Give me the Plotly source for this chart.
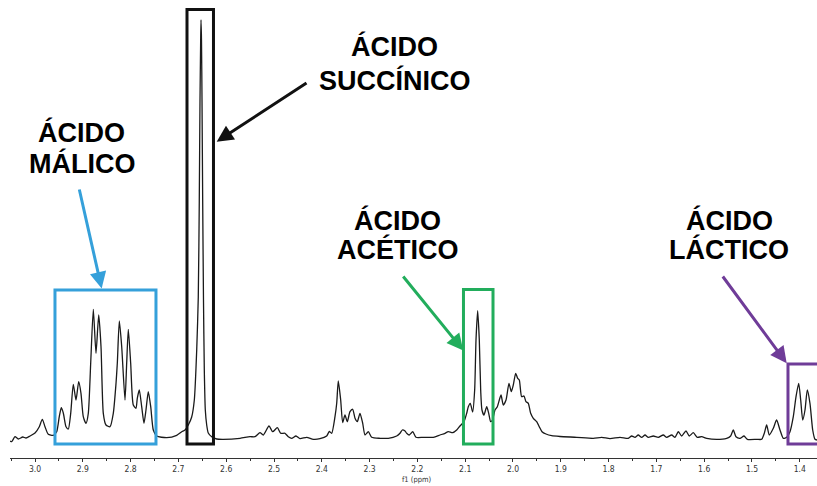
import plotly.graph_objects as go

# Chemical shift (ppm) and intensity (arbitrary units)
ppm = [3.0523, 3.0487, 3.0418, 3.0349, 3.0257, 3.0188, 3.0105, 3.0000, 2.9910, 2.9847,
       2.9791, 2.9722, 2.9617, 2.9546, 2.9492, 2.9450, 2.9408, 2.9351, 2.9303, 2.9253,
       2.9199, 2.9142, 2.9086, 2.9038, 2.8990, 2.8933, 2.8885, 2.8835, 2.8780, 2.8724,
       2.8667, 2.8619, 2.8571, 2.8515, 2.8431, 2.8362, 2.8305, 2.8278, 2.8236, 2.8186,
       2.8117, 2.8082, 2.8048, 2.7998, 2.7944, 2.7887, 2.7860, 2.7818, 2.7768, 2.7720,
       2.7678, 2.7630, 2.7579, 2.7525, 2.7454, 2.7245, 2.7036, 2.6931, 2.6862, 2.6793,
       2.6722, 2.6667, 2.6617, 2.6584, 2.6563, 2.6548, 2.6534, 2.6527, 2.6517, 2.6506,
       2.6492, 2.6475, 2.6458, 2.6437, 2.6408, 2.6375, 2.6297, 2.6199, 2.6061, 2.5711,
       2.5502, 2.5397, 2.5293, 2.5224, 2.5105, 2.5027, 2.4931, 2.4860, 2.4770, 2.4701,
       2.4630, 2.4540, 2.4456, 2.4316, 2.4178, 2.4038, 2.3898, 2.3843, 2.3793, 2.3724,
       2.3688, 2.3655, 2.3605, 2.3563, 2.3515, 2.3467, 2.3410, 2.3354, 2.3305, 2.3257,
       2.3201, 2.3144, 2.3096, 2.3027, 2.2956, 2.2782, 2.2609, 2.2433, 2.2364, 2.2316,
       2.2259, 2.2224, 2.2170, 2.2098, 2.2029, 2.1877, 2.1667, 2.1527, 2.1423, 2.1354,
       2.1262, 2.1178, 2.1109, 2.1025, 2.0969, 2.0935, 2.0894, 2.0844, 2.0802, 2.0774,
       2.0739, 2.0705, 2.0676, 2.0649, 2.0607, 2.0550, 2.0508, 2.0467, 2.0429, 2.0377,
       2.0328, 2.0251, 2.0203, 2.0146, 2.0084, 2.0036, 1.9994, 1.9944, 1.9902, 1.9868,
       1.9819, 1.9770, 1.9728, 1.9680, 1.9630, 1.9575, 1.9504, 1.9450, 1.9393, 1.9310,
       1.9190, 1.9017, 1.8667, 1.8320, 1.8144, 1.7971, 1.7762, 1.7588, 1.7517, 1.7448,
       1.7379, 1.7308, 1.7238, 1.7169, 1.7065, 1.6960, 1.6855, 1.6784, 1.6680, 1.6611,
       1.6542, 1.6471, 1.6381, 1.6312, 1.6228, 1.6144, 1.6052, 1.5948, 1.5739, 1.5530,
       1.5446, 1.5391, 1.5335, 1.5251, 1.5167, 1.5098, 1.4902, 1.4797, 1.4742, 1.4693,
       1.4638, 1.4554, 1.4485, 1.4414, 1.4345, 1.4274, 1.4205, 1.4136, 1.4079, 1.4023,
       1.3981, 1.3939, 1.3891, 1.3843, 1.3787, 1.3730, 1.3682, 1.3640]

intensity = [-1.0, -1.7, 3.3, 1.0, 3.0, 2.0, 4.0, 7.0, 13.3, 20.7,
             13.3, 5.7, 4.7, 8.3, 23.3, 32.3, 27.0, 13.3, 11.0, 26.7,
             55.7, 40.0, 58.3, 46.7, 23.3, 16.7, 26.7, 76.7, 130.7, 86.7,
             125.0, 93.3, 26.7, 15.0, 13.3, 26.7, 56.7, 76.7, 119.0, 93.3,
             40.0, 76.7, 110.7, 76.7, 35.0, 31.7, 41.7, 50.0, 33.3, 16.7,
             30.0, 48.3, 33.3, 10.0, 4.0, 2.3, 4.7, 8.3, 10.0, 15.0,
             23.0, 40.0, 90.0, 143.0, 240.0, 340.0, 400.0, 420.0, 400.0, 340.0,
             240.0, 140.0, 70.0, 30.0, 15.0, 7.0, 3.0, 1.0, 0.7, 1.7,
             3.3, 3.3, 7.3, 5.0, 14.0, 8.3, 12.3, 6.7, 6.7, 3.3,
             1.7, 4.0, 1.3, 2.7, 0.7, 1.3, 4.0, 8.5, 6.7, 23.3,
             36.7, 59.0, 40.0, 17.3, 25.0, 18.3, 28.3, 30.7, 21.7, 18.3,
             26.7, 16.7, 5.0, 8.3, 2.7, 1.7, 1.7, 4.0, 6.7, 10.0,
             9.0, 6.7, 5.0, 8.3, 2.7, 2.7, 2.7, 5.0, 6.7, 8.3,
             7.3, 10.0, 14.0, 18.3, 26.7, 33.3, 36.7, 28.0, 50.0, 100.0,
             129.3, 100.0, 50.0, 30.0, 25.0, 33.3, 26.7, 18.3, 20.0, 30.0,
             33.3, 45.0, 35.0, 40.0, 56.7, 48.3, 55.0, 66.7, 61.7, 60.0,
             43.3, 44.0, 38.3, 36.7, 26.7, 21.7, 18.3, 13.3, 8.3, 6.0,
             4.3, 3.5, 2.7, 1.7, 2.7, 1.3, 2.7, 1.7, 4.0, 2.7,
             5.0, 2.7, 5.0, 2.7, 4.0, 2.7, 5.0, 2.7, 5.0, 2.7,
             8.3, 4.0, 9.0, 4.0, 7.3, 2.7, 3.3, 1.7, 0.7, 1.7,
             4.0, 10.0, 3.3, 1.7, 4.0, 0.7, 0.7, 0.7, 6.7, 15.0,
             5.0, 11.7, 20.0, 10.0, 1.7, 2.7, 8.3, 23.3, 43.3, 56.7,
             40.0, 20.0, 30.0, 50.0, 36.7, 10.0, 0.7, 0.0]

# Highlighted regions (ppm ranges) and labels
compound_labels = [["ÁCIDO", "MÁLICO"], ["ÁCIDO", "SUCCÍNICO"],
                   ["ÁCIDO", "ACÉTICO"], ["ÁCIDO", "LÁCTICO"]]
region_ppm = [(2.9582, 2.7469), (2.6820, 2.6266), (2.1036, 2.0418), (1.4247, 1.3550)]
tick_vals = [3.0, 2.9, 2.8, 2.7, 2.6, 2.5, 2.4, 2.3, 2.2, 2.1, 2.0, 1.9, 1.8, 1.7, 1.6, 1.5, 1.4]
tick_text = ["3.0", "2.9", "2.8", "2.7", "2.6", "2.5", "2.4", "2.3", "2.2", "2.1",
             "2.0", "1.9", "1.8", "1.7", "1.6", "1.5", "1.4"]

colors = ["#35A0DA", "#111111", "#22AD5C", "#6F3C98"]
box_top = [150, 430.5, 150.5, 76]
box_bottom = -4
arrow_tip = [(2.8605, 151.5), (2.6199, 298.3), (2.1040, 89.5), (1.4274, 76.7)]
arrow_off = [(-22.7, -100.5), (91.3, -59.7), (-61.3, -75.5), (-65.0, -88.3)]
text_pos = [(2.9017, 308, 277), (2.2469, 393.5, 359.5), (2.2406, 220, 191), (1.5481, 220, 191)]

fig = go.Figure()
fig.add_trace(go.Scatter(x=ppm, y=intensity, mode="lines",
                         line=dict(color="#1a1a1a", width=1.3, shape="spline", smoothing=0.6),
                         hoverinfo="skip", showlegend=False))

shapes = []
annotations = []
for i in range(4):
    x0, x1 = region_ppm[i]
    shapes.append(dict(type="rect", xref="x", yref="y", x0=x0, x1=x1,
                       y0=box_bottom, y1=box_top[i],
                       line=dict(color=colors[i], width=3), fillcolor="rgba(0,0,0,0)"))
    tx, ty = arrow_tip[i]
    ax, ay = arrow_off[i]
    annotations.append(dict(x=tx, y=ty, xref="x", yref="y", ax=ax, ay=ay,
                            axref="pixel", ayref="pixel", text="", showarrow=True,
                            arrowhead=2, arrowsize=1.1, arrowwidth=3,
                            arrowcolor=colors[i], standoff=0))
    lx, ly1, ly2 = text_pos[i]
    for line_text, ly in zip(compound_labels[i], (ly1, ly2)):
        annotations.append(dict(x=lx, y=ly, xref="x", yref="y", text=line_text,
                                showarrow=False, xanchor="center", yanchor="middle",
                                font=dict(family="Liberation Sans, Arial, sans-serif",
                                          size=27, color="#000000", weight="bold")))

annotations.append(dict(x=2.2, y=-0.0459, xref="x", yref="paper", text="f1 (ppm)",
                        showarrow=False, xanchor="center", yanchor="middle",
                        font=dict(family="DejaVu Sans Condensed, DejaVu Sans", size=7.5, color="#333333")))

fig.update_layout(
    width=817, height=486,
    margin=dict(l=10, r=0, t=0, b=28),
    paper_bgcolor="white", plot_bgcolor="white",
    shapes=shapes, annotations=annotations,
    xaxis=dict(range=[3.0523, 1.3640], showgrid=False, zeroline=False,
               showline=True, linecolor="#333333", linewidth=1,
               ticks="outside", ticklen=3, tickwidth=1, tickcolor="#333333",
               tickvals=tick_vals, ticktext=tick_text,
               tickfont=dict(family="DejaVu Sans Condensed, DejaVu Sans", size=8.5, color="#333333"),
               minor=dict(dtick=0.05, tick0=0, ticks="outside", ticklen=2, tickcolor="#333333"),
               fixedrange=True),
    yaxis=dict(range=[-18, 440], visible=False, fixedrange=True),
)

fig.write_html("out.html")
